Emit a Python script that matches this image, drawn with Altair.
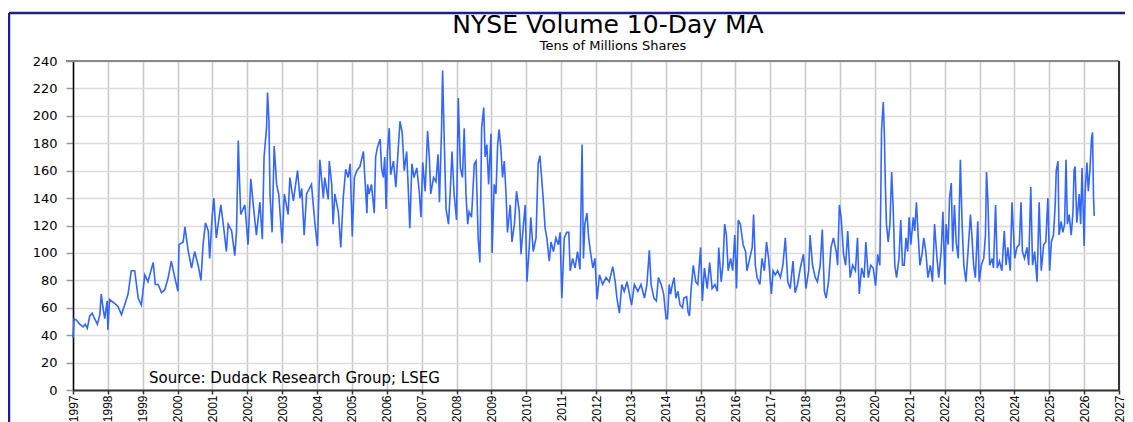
import altair as alt
import pandas as pd

# ---- data: NYSE volume 10-day MA (tens of millions of shares) ----
t_1997_2005 = [1997.00, 1997.03, 1997.10, 1997.19, 1997.29, 1997.35, 1997.41, 1997.48, 1997.55, 1997.62,
               1997.70, 1997.77, 1997.81, 1997.86, 1997.91, 1997.98, 1998.00, 1998.05, 1998.20, 1998.29,
               1998.39, 1998.48, 1998.58, 1998.67, 1998.77, 1998.87, 1998.96, 1999.06, 1999.15, 1999.30,
               1999.36, 1999.44, 1999.54, 1999.63, 1999.73, 1999.82, 1999.92, 2000.01, 2000.04, 2000.16,
               2000.21, 2000.30, 2000.40, 2000.49, 2000.59, 2000.67, 2000.73, 2000.80, 2000.88, 2000.92,
               2000.99, 2001.04, 2001.11, 2001.24, 2001.31, 2001.40, 2001.45, 2001.55, 2001.64, 2001.69,
               2001.74, 2001.77, 2001.81, 2001.93, 2002.02, 2002.10, 2002.17, 2002.26, 2002.36, 2002.43,
               2002.48, 2002.55, 2002.58, 2002.62, 2002.65, 2002.71, 2002.77, 2002.84, 2002.90, 2003.00,
               2003.06, 2003.17, 2003.22, 2003.32, 2003.44, 2003.51, 2003.56, 2003.63, 2003.70, 2003.84,
               2003.94, 2004.01, 2004.08, 2004.18, 2004.22, 2004.32, 2004.35, 2004.42, 2004.46, 2004.51,
               2004.61, 2004.68, 2004.75, 2004.82, 2004.89, 2004.95, 2005.01, 2005.07, 2005.14, 2005.23,
               2005.33, 2005.37, 2005.43]
v_1997_2005 = [38, 52, 51, 48, 46, 48, 45, 54, 56, 52,
               48, 55, 70, 60, 52, 65, 44, 66, 63, 61,
               55, 62, 70, 87, 87, 67, 62, 84, 79, 93,
               77, 77, 71, 73, 82, 94, 82, 72, 106, 108,
               119, 102, 89, 101, 91, 80, 106, 122, 116, 96,
               126, 140, 111, 135, 121, 101, 121, 116, 98, 116,
               182, 157, 128, 135, 106, 154, 135, 113, 137, 110,
               170, 191, 217, 196, 143, 115, 178, 150, 143, 107,
               143, 128, 155, 138, 160, 140, 147, 113, 143, 150,
               121, 105, 168, 140, 155, 139, 167, 150, 121, 143,
               130, 104, 140, 161, 155, 165, 112, 155, 160, 163,
               174, 155, 129]

t_2005_2014 = [2005.45, 2005.49, 2005.56, 2005.64, 2005.68, 2005.73, 2005.81, 2005.85, 2005.90, 2005.94,
               2005.98, 2006.02, 2006.07, 2006.11, 2006.19, 2006.26, 2006.33, 2006.38, 2006.44, 2006.50,
               2006.57, 2006.61, 2006.66, 2006.72, 2006.78, 2006.86, 2006.93, 2006.98, 2007.03, 2007.10,
               2007.17, 2007.22, 2007.26, 2007.34, 2007.41, 2007.47, 2007.51, 2007.57, 2007.60, 2007.65,
               2007.70, 2007.77, 2007.82, 2007.87, 2007.93, 2008.00, 2008.05, 2008.11, 2008.17, 2008.22,
               2008.27, 2008.32, 2008.36, 2008.43, 2008.51, 2008.56, 2008.62, 2008.67, 2008.72, 2008.78,
               2008.82, 2008.87, 2008.92, 2008.99, 2009.02, 2009.08, 2009.13, 2009.18, 2009.22, 2009.27,
               2009.32, 2009.37, 2009.42, 2009.46, 2009.54, 2009.59, 2009.66, 2009.72, 2009.80, 2009.85,
               2009.92, 2009.97, 2010.02, 2010.09, 2010.13, 2010.20, 2010.28, 2010.34, 2010.39, 2010.44,
               2010.49, 2010.54, 2010.59, 2010.66, 2010.71, 2010.78, 2010.85, 2010.92, 2010.97, 2011.02,
               2011.09, 2011.16, 2011.22, 2011.26, 2011.33, 2011.40, 2011.47, 2011.54, 2011.60, 2011.64,
               2011.68, 2011.74, 2011.79, 2011.84, 2011.91, 2011.97, 2012.03, 2012.10, 2012.19, 2012.29,
               2012.38, 2012.48, 2012.55, 2012.60, 2012.67, 2012.74, 2012.81, 2012.89, 2012.96, 2013.02,
               2013.10, 2013.20, 2013.29, 2013.39, 2013.46, 2013.53, 2013.58, 2013.66, 2013.73, 2013.79,
               2013.87, 2013.94, 2014.01]
v_2005_2014 = [150, 143, 150, 129, 170, 177, 183, 162, 155, 170,
               132, 174, 191, 157, 167, 148, 177, 196, 188, 160,
               174, 150, 118, 165, 155, 162, 145, 126, 166, 145,
               189, 170, 143, 155, 152, 172, 137, 190, 233, 179,
               132, 121, 145, 174, 143, 124, 213, 162, 155, 191,
               143, 121, 130, 126, 165, 167, 111, 93, 191, 206,
               170, 179, 150, 187, 100, 150, 143, 179, 190, 177,
               155, 167, 143, 115, 135, 108, 121, 145, 130, 99,
               121, 135, 79, 106, 126, 101, 111, 165, 171, 155,
               138, 118, 111, 94, 108, 101, 111, 106, 115, 67,
               111, 115, 115, 87, 96, 89, 101, 88, 179, 96,
               121, 129, 111, 101, 89, 96, 66, 84, 77, 82,
               79, 90, 79, 67, 56, 77, 72, 79, 70, 62,
               77, 72, 77, 67, 77, 102, 77, 67, 65, 82,
               77, 70, 52]

t_2014_2022 = [2014.05, 2014.10, 2014.14, 2014.19, 2014.24, 2014.29, 2014.35, 2014.41, 2014.48, 2014.52,
               2014.60, 2014.64, 2014.68, 2014.73, 2014.79, 2014.86, 2014.92, 2015.00, 2015.05, 2015.11,
               2015.19, 2015.26, 2015.33, 2015.41, 2015.48, 2015.52, 2015.59, 2015.64, 2015.69, 2015.74,
               2015.79, 2015.86, 2015.92, 2015.98, 2016.03, 2016.08, 2016.14, 2016.22, 2016.29, 2016.33,
               2016.41, 2016.48, 2016.52, 2016.57, 2016.62, 2016.70, 2016.76, 2016.83, 2016.89, 2016.95,
               2017.03, 2017.08, 2017.14, 2017.21, 2017.29, 2017.36, 2017.43, 2017.50, 2017.57, 2017.65,
               2017.71, 2017.78, 2017.86, 2017.95, 2018.02, 2018.10, 2018.14, 2018.21, 2018.29, 2018.35,
               2018.43, 2018.49, 2018.55, 2018.60, 2018.67, 2018.74, 2018.81, 2018.89, 2018.93, 2018.98,
               2019.03, 2019.10, 2019.16, 2019.22, 2019.29, 2019.36, 2019.44, 2019.50, 2019.55, 2019.62,
               2019.69, 2019.74, 2019.81, 2019.88, 2019.95, 2020.02, 2020.08, 2020.14, 2020.17, 2020.19,
               2020.24, 2020.27, 2020.30, 2020.33, 2020.38, 2020.43, 2020.48, 2020.52, 2020.57, 2020.62,
               2020.69, 2020.74, 2020.79, 2020.84, 2020.89, 2020.94, 2020.98, 2021.03, 2021.10, 2021.14,
               2021.19, 2021.24, 2021.29, 2021.35, 2021.40, 2021.46, 2021.52, 2021.59, 2021.65, 2021.71,
               2021.78, 2021.83, 2021.90, 2021.95, 2022.01]
v_2014_2022 = [52, 77, 70, 77, 82, 67, 72, 62, 60, 67,
               68, 57, 54, 74, 91, 79, 77, 104, 65, 89,
               74, 93, 74, 77, 72, 104, 79, 91, 121, 113,
               87, 96, 87, 113, 74, 124, 121, 106, 101, 87,
               96, 104, 128, 91, 82, 77, 96, 87, 108, 96,
               70, 87, 84, 87, 82, 91, 111, 79, 74, 94,
               71, 77, 89, 99, 74, 87, 113, 91, 82, 79,
               91, 117, 72, 67, 79, 104, 111, 101, 91, 135,
               126, 99, 91, 116, 82, 91, 87, 111, 70, 89,
               82, 108, 82, 91, 89, 76, 99, 91, 145, 190,
               210, 187, 148, 121, 108, 121, 159, 135, 91, 82,
               96, 124, 91, 91, 111, 101, 126, 106, 126, 116,
               137, 113, 91, 99, 111, 101, 82, 91, 79, 121,
               96, 82, 101, 130, 77]

t_2022_2026 = [2022.04, 2022.10, 2022.14, 2022.19, 2022.23, 2022.28, 2022.33, 2022.39, 2022.45, 2022.50,
               2022.55, 2022.61, 2022.67, 2022.74, 2022.78, 2022.83, 2022.88, 2022.95, 2022.99, 2023.05,
               2023.12, 2023.17, 2023.20, 2023.24, 2023.29, 2023.36, 2023.40, 2023.46, 2023.51, 2023.57,
               2023.64, 2023.71, 2023.76, 2023.81, 2023.88, 2023.93, 2024.01, 2024.07, 2024.14, 2024.19,
               2024.23, 2024.29, 2024.36, 2024.41, 2024.47, 2024.52, 2024.58, 2024.65, 2024.71, 2024.77,
               2024.84, 2024.90, 2024.96, 2025.01, 2025.06, 2025.12, 2025.17, 2025.20, 2025.25, 2025.28,
               2025.34, 2025.39, 2025.44, 2025.48, 2025.52, 2025.57, 2025.63, 2025.68, 2025.71, 2025.74,
               2025.79, 2025.86, 2025.90, 2025.94, 2026.00, 2026.03, 2026.08, 2026.12, 2026.17, 2026.21,
               2026.24, 2026.27, 2026.29]
v_2022_2026 = [121, 106, 140, 151, 101, 135, 108, 96, 168, 121,
               91, 79, 101, 128, 113, 91, 82, 123, 79, 91,
               96, 113, 159, 138, 91, 96, 89, 135, 89, 94,
               87, 116, 91, 104, 87, 137, 96, 104, 106, 137,
               101, 96, 104, 91, 148, 91, 101, 79, 137, 87,
               106, 108, 140, 87, 108, 113, 135, 160, 167, 113,
               123, 115, 121, 168, 121, 128, 113, 130, 160, 163,
               122, 143, 121, 162, 105, 145, 166, 145, 162, 183,
               188, 140, 127]

year_ticks = list(range(1997, 2028))
value_ticks = list(range(0, 241, 20))

title_text = "NYSE Volume 10-Day MA"
subtitle_text = "Tens of Millions Shares"
source_text = "Source: Dudack Research Group; LSEG"

df = pd.DataFrame({
    "t": t_1997_2005 + t_2005_2014 + t_2014_2022 + t_2022_2026,
    "v": v_1997_2005 + v_2005_2014 + v_2014_2022 + v_2022_2026,
})

PL = 65            # left padding (page x of plot = 8 + PL)
W, H = 1046, 329
NAVY = "#1c1c96"

base = alt.Chart(df)

line = base.mark_line(color="#3366ff", strokeWidth=1.6).encode(
    x=alt.X("t:Q", title=None,
            scale=alt.Scale(domain=[1997, 2027], nice=False, zero=False),
            axis=alt.Axis(values=year_ticks, format="d", labelAngle=-90,
                          labelFont="Liberation Sans", labelFontSize=12,
                          labelColor="#000", labelPadding=1, labelOverlap=False,
                          labelFlush=False, tickSize=4, tickWidth=1.5, tickColor="#333",
                          domainColor="#333", domainWidth=2,
                          grid=True, gridColor="#c8c8c8", gridWidth=1.5)),
    y=alt.Y("v:Q", title=None,
            scale=alt.Scale(domain=[0, 240], nice=False),
            axis=alt.Axis(values=value_ticks, labelFont="DejaVu Sans", labelFontSize=13,
                          labelColor="#000", labelPadding=9, tickSize=7, tickWidth=1.5,
                          tickColor="#999", domainColor="#000", domainWidth=1.5,
                          grid=True, gridColor="#dcdcdc", gridWidth=1.5)),
)

top_border = alt.Chart(pd.DataFrame({"a": [0]})).mark_rule(color="#888", strokeWidth=2).encode(
    x=alt.value(-7), x2=alt.value(W), y=alt.value(0))
right_border = alt.Chart(pd.DataFrame({"a": [0]})).mark_rule(color="#333", strokeWidth=2).encode(
    x=alt.value(W), y=alt.value(0), y2=alt.value(H))

frame_top = alt.Chart(pd.DataFrame({"a": [0]})).mark_rule(color=NAVY, strokeWidth=2.5).encode(
    x=alt.value(-PL + 1), x2=alt.value(W + 12), y=alt.value(-48))
frame_left = alt.Chart(pd.DataFrame({"a": [0]})).mark_rule(color=NAVY, strokeWidth=2.5).encode(
    x=alt.value(-PL + 1), y=alt.value(-48), y2=alt.value(H + 40))

title = alt.Chart(pd.DataFrame({"s": [title_text]})).mark_text(
    font="DejaVu Sans", fontSize=25, color="#000", align="center", baseline="alphabetic").encode(
    x=alt.value(535), y=alt.value(-28), text="s:N")
subtitle = alt.Chart(pd.DataFrame({"s": [subtitle_text]})).mark_text(
    font="DejaVu Sans", fontSize=13, color="#000", align="center", baseline="alphabetic").encode(
    x=alt.value(540), y=alt.value(-11), text="s:N")
source = alt.Chart(pd.DataFrame({"s": [source_text]})).mark_text(
    font="DejaVu Sans", fontSize=15, color="#000", align="left", baseline="alphabetic").encode(
    x=alt.value(76), y=alt.value(322), text="s:N")

chart = alt.layer(
    line, top_border, right_border, frame_top, frame_left, title, subtitle, source
).properties(
    width=W, height=H,
    autosize=alt.AutoSizeParams(type="none"),
    padding={"left": PL, "top": 53, "right": 6, "bottom": 32},
).configure_view(stroke=None).configure(background="white")

chart.save("out.html", embed_options={"renderer": "svg", "actions": False})
